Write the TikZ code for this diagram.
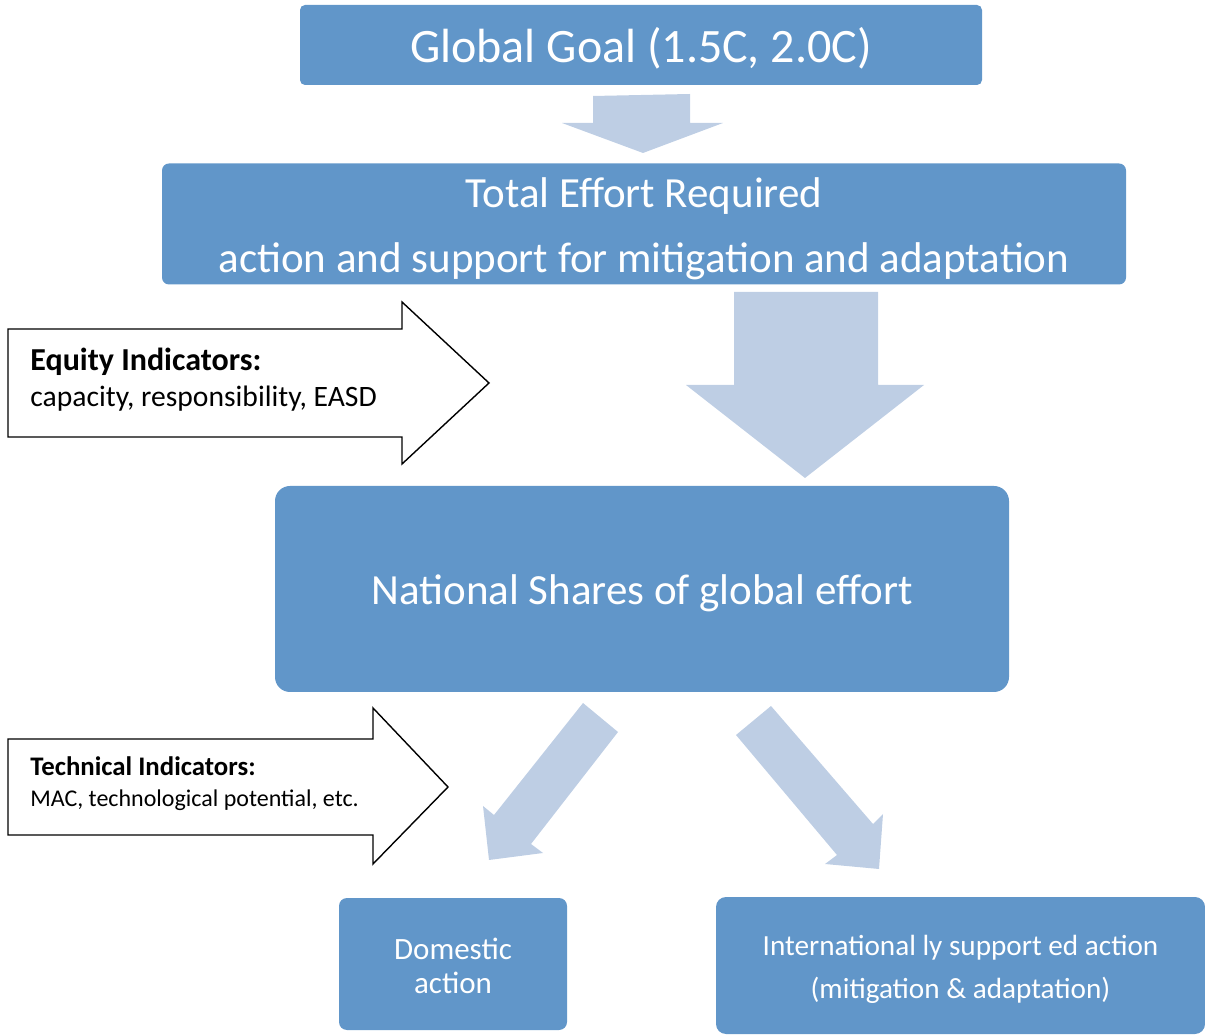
\documentclass[tikz,border=0pt]{standalone}
\usepackage{fontspec}
\setmainfont{Carlito}
\definecolor{boxblue}{HTML}{6196C9}
\definecolor{arrowblue}{HTML}{BECEE4}

\begin{document}
\begin{tikzpicture}[x=0.5pt,y=-0.5pt]
\tikzstyle{box} = [rectangle, fill=boxblue, inner sep=0pt]
\tikzstyle{boxtext} = [text=white, align=center, inner sep=0pt]
\tikzstyle{bigarrow} = [fill=arrowblue]
\tikzstyle{indarrow} = [draw=black, line width=0.7pt, fill=white, line join=miter]
\useasboundingbox (0,0) rectangle (1205,1036);
\node[box, rounded corners=2.5pt, minimum width=341pt, minimum height=40pt,
  label={[boxtext, yshift=-1.5pt, font=\fontsize{24}{29}\selectfont]center:{Global Goal (1.5C, 2.0C)}}] (goal) at (641,45) {};
\node[box, rounded corners=3.5pt, minimum width=482pt, minimum height=60.5pt,
  label={[boxtext, yshift=-2.5pt, font=\fontsize{21.5}{32.5}\selectfont]center:{Total Effort Required\\action and support for mitigation and adaptation}}] (effort) at (644,224) {};
\node[box, rounded corners=7.5pt, minimum width=367pt, minimum height=103pt,
  label={[boxtext, yshift=-2pt, font=\fontsize{21.5}{26}\selectfont]center:{National Shares of global effort}}] (shares) at (642,589) {};
\node[box, rounded corners=4pt, minimum width=114pt, minimum height=66pt,
  label={[boxtext, yshift=-1pt, font=\fontsize{15.5}{17}\selectfont]center:{Domestic\\action}}] (domestic) at (453,964) {};
\node[box, rounded corners=5pt, minimum width=244.5pt, minimum height=68.5pt,
  label={[boxtext, yshift=-2pt, font=\fontsize{14.6}{21.5}\selectfont]center:{International ly support ed action\\(mitigation \& adaptation)}}] (intl) at (960.5,965.5) {};
\fill[bigarrow] (593,96) -- (690,94) -- (690,123) -- (723,123) -- (643,153) -- (562,123) -- (593,123) -- cycle;
\fill[bigarrow] (734,292) -- (878,292) -- (878,385) -- (924,385) -- (805,478) -- (686,385) -- (734,385) -- cycle;
\fill[bigarrow] (583,703) -- (618,732) -- (531,844) -- (543,853) -- (489,860) -- (483,806) -- (494,815) -- cycle;
\fill[bigarrow] (771,706) -- (736,735) -- (837,855) -- (825,864) -- (879,869) -- (883,814) -- (873,824) -- cycle;
\draw[indarrow] (8,329) -- (402,329) -- (402,302) -- (489,383) -- (402,464) -- (402,437) -- (8,437) -- cycle;
\draw[indarrow] (8,739) -- (373,739) -- (373,708) -- (448,787) -- (373,864) -- (373,835) -- (8,835) -- cycle;
\node[anchor=west, align=left, inner sep=0pt, font=\fontsize{14.8}{18}\selectfont] (equity) at (30,380)
  {{\fontsize{16}{18}\selectfont\bfseries Equity Indicators:}\\capacity, responsibility, EASD};
\node[anchor=west, align=left, inner sep=0pt, font=\fontsize{12}{15.5}\selectfont] (technical) at (30,784)
  {{\fontsize{13.4}{15.5}\selectfont\bfseries Technical Indicators:}\\MAC, technological potential, etc.};
\end{tikzpicture}
\end{document}
